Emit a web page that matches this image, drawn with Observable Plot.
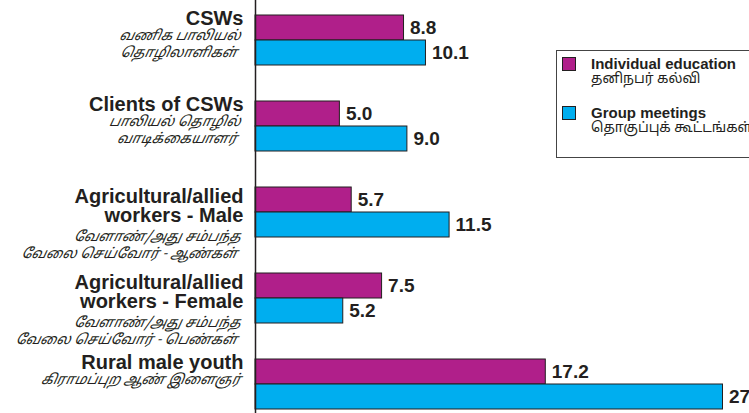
<!DOCTYPE html>
<html>
<head>
<meta charset="utf-8">
<script src="https://cdn.jsdelivr.net/npm/d3@7"></script>
<script src="https://cdn.jsdelivr.net/npm/@observablehq/plot@0.6"></script>
<style>
  html, body { margin: 0; padding: 0; background: #fff; overflow: hidden; }
  #wrap { position: relative; width: 749px; height: 413px; overflow: hidden; }
  #legend { position: absolute; left: 556px; top: 50px; width: 210px; height: 108px;
            border: 1px solid #444; box-sizing: border-box; background: #fff;
            font-family: "Liberation Sans", Arial, sans-serif; color: #231f20; }
  .sw { position: absolute; left: 5px; width: 14px; height: 14px; box-sizing: border-box; border: 1px solid #231f20; }
  .en { position: absolute; left: 34px; font-weight: bold; font-size: 15px; line-height: 15px; white-space: nowrap; }
  .ta { position: absolute; left: 34px; font-size: 13.8px; line-height: 16px; white-space: nowrap;
        font-family: "Noto Sans Tamil", "Lohit Tamil", "Noto Sans", sans-serif; }
</style>
</head>
<body>
<div id="wrap"></div>
<script>
const categories = ["CSWs", "Clients of CSWs", "Agricultural/allied workers - Male", "Agricultural/allied workers - Female", "Rural male youth"];
const englishLabels = ["CSWs", "Clients of CSWs", "Agricultural/allied\nworkers - Male", "Agricultural/allied\nworkers - Female", "Rural male youth"];
const tamilLabels = ["வணிக பாலியல்\nதொழிலாளிகள்", "பாலியல் தொழில்\nவாடிக்கையாளர்", "வேளாண்/அது சம்பந்த\nவேலை செய்வோர் - ஆண்கள்", "வேளாண்/அது சம்பந்த\nவேலை செய்வோர் - பெண்கள்", "கிராமப்புற ஆண் இளைஞர்"];
const individual = [8.8, 5.0, 5.7, 7.5, 17.2];
const groupMeetings = [10.1, 9.0, 11.5, 5.2, 27.7];
const seriesNames = ["Individual education", "Group meetings"];
const seriesTamil = ["தனிநபர் கல்வி", "தொகுப்புக் கூட்டங்கள்"];
const colors = ["#b01f8a", "#00aeef"];

const rows = categories.map((c, i) => ({
  cat: c, en: englishLabels[i], ta: tamilLabels[i],
  lines: englishLabels[i].split("\n").length,
  ind: individual[i], grp: groupMeetings[i]
}));

const ink = "#231f20";
const enFont = "Liberation Sans, Arial, sans-serif";
const taFont = "Noto Sans Tamil, Lohit Tamil, Noto Sans, sans-serif";

const chart = Plot.plot({
  width: 749, height: 413,
  marginLeft: 255, marginRight: 0, marginTop: 13, marginBottom: 3,
  style: { background: "#fff", overflow: "visible" },
  x: { domain: [0, 29.27], axis: null },
  y: { domain: categories, paddingInner: 0.4236, paddingOuter: 0, axis: null },
  marks: [
    Plot.barX(rows, { y: "cat", x: "ind", fill: colors[0], stroke: ink, strokeWidth: 1, insetBottom: 25 }),
    Plot.barX(rows, { y: "cat", x: "grp", fill: colors[1], stroke: ink, strokeWidth: 1, insetTop: 25 }),
    Plot.ruleX([0], { stroke: ink, strokeWidth: 1.5, insetTop: -13, insetBottom: -3 }),
    Plot.text(rows, { y: "cat", x: "ind", text: d => d.ind.toFixed(1), dy: -12.5, dx: 6, textAnchor: "start",
      fontSize: 19, fontWeight: "bold", fontFamily: enFont, fill: ink }),
    Plot.text(rows, { y: "cat", x: "grp", text: d => d.grp.toFixed(1), dy: 12.5, dx: 6, textAnchor: "start",
      fontSize: 19, fontWeight: "bold", fontFamily: enFont, fill: ink }),
    Plot.text(rows.filter(d => d.lines === 1), { y: "cat", x: () => 0, text: "en", dx: -12, dy: -29.2,
      textAnchor: "end", lineAnchor: "top", lineHeight: 0.95, fontSize: 20, fontWeight: "bold", fontFamily: enFont, fill: ink }),
    Plot.text(rows.filter(d => d.lines === 2), { y: "cat", x: () => 0, text: "en", dx: -12, dy: -23,
      textAnchor: "end", lineAnchor: "top", lineHeight: 0.95, fontSize: 20, fontWeight: "bold", fontFamily: enFont, fill: ink }),
    Plot.text(rows.filter(d => d.lines === 1), { y: "cat", x: () => 0, text: "ta", dx: -13, dy: -12.3,
      textAnchor: "end", lineAnchor: "top", lineHeight: 1.22, fontSize: 14, fontStyle: "italic", fontFamily: taFont, fill: ink }),
    Plot.text(rows.filter(d => d.lines === 2), { y: "cat", x: () => 0, text: "ta", dx: -13, dy: 17,
      textAnchor: "end", lineAnchor: "top", lineHeight: 1.18, fontSize: 14, fontStyle: "italic", fontFamily: taFont, fill: ink })
  ]
});

// slant the Tamil labels (the Tamil font has no italic face)
d3.select(chart).selectAll("text").each(function () {
  if (/[\u0B80-\u0BFF]/.test(this.textContent)) {
    const t = this.getAttribute("transform") || "";
    this.setAttribute("transform", t + " skewX(-12)");
  }
});

const wrap = document.getElementById("wrap");
wrap.appendChild(chart);

const legend = document.createElement("div");
legend.id = "legend";
const tops = [6, 55];
seriesNames.forEach((name, i) => {
  const t = tops[i];
  legend.insertAdjacentHTML("beforeend",
    `<div class="sw" style="top:${t}px;background:${colors[i]}"></div>` +
    `<div class="en" style="top:${t - 1}px">${name}</div>` +
    `<div class="ta" style="top:${t + 15}px">${seriesTamil[i]}</div>`);
});
wrap.appendChild(legend);
</script>
</body>
</html>
